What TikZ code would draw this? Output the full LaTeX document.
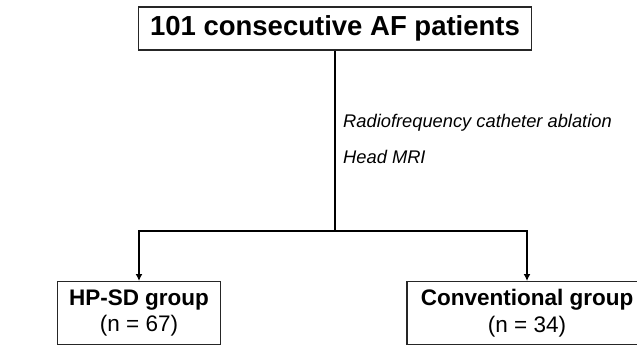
\documentclass[tikz,border=0pt]{standalone}
\usepackage{fontspec}
\setmainfont{Liberation Sans}
\usetikzlibrary{positioning, calc, arrows.meta}
\tikzset{
    Arrow/.style = {
        line width=2.4pt,
        -{Latex[length=7pt, width=7pt]}
    },
    Line/.style = {
        line width=2.4pt
    },
    Box/.style = {
        draw=black!85, line width=1.3pt, align=center, inner sep=0pt
    },
    Group/.style = {
        Box, anchor=north, minimum height=63pt,
        font=\fontsize{22.5}{26.5}\selectfont
    },
    Step/.style = {
        font=\fontsize{18.3}{22}\selectfont\itshape, inner sep=0pt, anchor=base west
    }
}

\begin{document}
\begin{tikzpicture}[x=1pt, y=-1pt]
    \useasboundingbox (0,0) rectangle (637,346);
    \node [Box, minimum width=393pt, minimum height=43pt,
           font=\fontsize{27.5}{30}\selectfont\bfseries] (AF) at (335,28.5) {101 consecutive AF patients};
    \node [Group, minimum width=163pt] (HPSD) at (139,281) {\textbf{HP-SD group}\\(n = 67)};
    \node [Group, minimum width=240pt] (Conv) at (527,281) {\textbf{Conventional group}\\(n = 34)};
    \node [Step] (RFCA) at (343,127) {Radiofrequency catheter ablation};
    \node [Step] (MRI) at (343,163) {Head MRI};
    \coordinate (Split) at (AF.south |- 0,231);
    \draw [Line] (AF.south) to (Split);
    \draw [Line, line cap=rect] (HPSD.north |- Split) to (Conv.north |- Split);
    \draw [Arrow] (HPSD.north |- Split) to (HPSD.north);
    \draw [Arrow] (Conv.north |- Split) to (Conv.north);
\end{tikzpicture}
\end{document}
